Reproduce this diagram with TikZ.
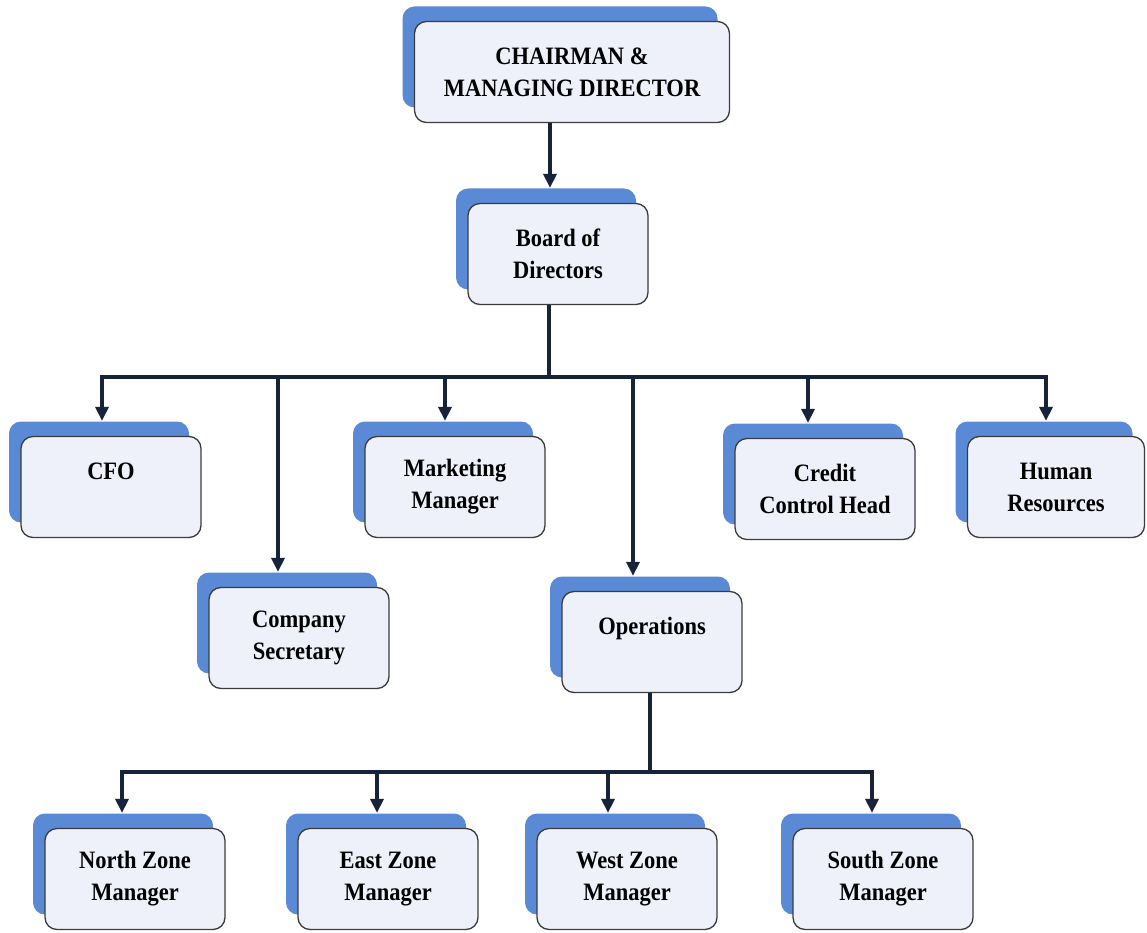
\documentclass[tikz,border=0pt]{standalone}
\usepackage{fontspec}
\setmainfont{Liberation Serif}[FakeStretch=0.9]
\usetikzlibrary{arrows.meta,shadows}
\definecolor{backblue}{HTML}{5A8AD6}
\definecolor{frontfill}{HTML}{EEF1FA}
\definecolor{boxline}{HTML}{3C3C3C}
\definecolor{linecol}{HTML}{17233B}
\tikzset{
  box/.style={rounded corners=12pt, draw=boxline, line width=1.3pt, fill=frontfill,
    minimum width=180pt, minimum height=101pt, align=center, inner sep=0pt,
    font=\bfseries\fontsize{25}{32}\selectfont, text=black,
    general shadow={fill=backblue, shadow xshift=-12pt, shadow yshift=15pt}},
  conn/.style={draw=linecol, line width=4.5pt},
  tip/.style={-{Triangle[width=13pt,length=14pt]}},
  tips/.style={{Triangle[width=13pt,length=14pt]}-{Triangle[width=13pt,length=14pt]}}
}
\begin{document}
\begin{tikzpicture}[x=1pt,y=-1pt]
\useasboundingbox (0,0) rectangle (1147,933);
% boxes
\node[box, minimum width=315pt] (chair) at (572,72) {CHAIRMAN \&\\MANAGING DIRECTOR};
\node[box] (board) at (558,254) {Board of\\Directors};
\node[box] (cfo) at (111,487) {CFO\\\mbox{}};
\node[box] (sec) at (299,638) {Company\\Secretary};
\node[box] (mkt) at (455,487) {Marketing\\Manager};
\node[box] (ops) at (652,642) {Operations\\\mbox{}};
\node[box] (crd) at (825,489) {Credit\\Control Head};
\node[box, minimum width=177pt] (hr) at (1056,487) {Human\\Resources};
\node[box] (nz) at (135,879) {North Zone\\Manager};
\node[box] (ez) at (388,879) {East Zone\\Manager};
\node[box] (wz) at (627,879) {West Zone\\Manager};
\node[box] (sz) at (883,879) {South Zone\\Manager};
% connection points
\coordinate (bus1) at (549,377);
\coordinate (bus2) at (650,772);
% chairman -> board
\draw[conn, tip] ([xshift=-22pt]chair.south) -- ([xshift=-8pt,yshift=15pt]board.north);
% board -> first level
\draw[conn] ([xshift=-9pt]board.south) -- ([xshift=-9pt]board.south |- bus1);
\draw[conn, tips] ([xshift=-9pt,yshift=15pt]cfo.north) |- (bus1) -| ([xshift=-10pt,yshift=15pt]hr.north);
\draw[conn, tip] ([xshift=-21pt]sec.north |- bus1) -- ([xshift=-21pt,yshift=15pt]sec.north);
\draw[conn, tip] ([xshift=-10pt]mkt.north |- bus1) -- ([xshift=-10pt,yshift=15pt]mkt.north);
\draw[conn, tip] ([xshift=-19pt]ops.north |- bus1) -- ([xshift=-19pt,yshift=15pt]ops.north);
\draw[conn, tip] ([xshift=-17pt]crd.north |- bus1) -- ([xshift=-17pt,yshift=15pt]crd.north);
% operations -> zones
\draw[conn] ([xshift=-2pt]ops.south) -- ([xshift=-2pt]ops.south |- bus2);
\draw[conn, tips] ([xshift=-13pt,yshift=15pt]nz.north) |- (bus2) -| ([xshift=-11pt,yshift=15pt]sz.north);
\draw[conn, tip] ([xshift=-11pt]ez.north |- bus2) -- ([xshift=-11pt,yshift=15pt]ez.north);
\draw[conn, tip] ([xshift=-19pt]wz.north |- bus2) -- ([xshift=-19pt,yshift=15pt]wz.north);
\end{tikzpicture}
\end{document}
